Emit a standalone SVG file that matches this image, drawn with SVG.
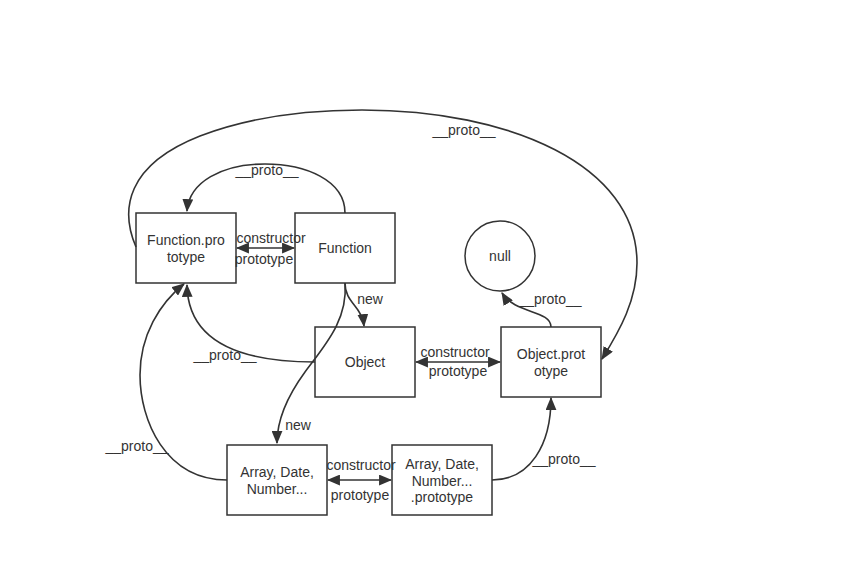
<svg xmlns="http://www.w3.org/2000/svg" width="866" height="577" viewBox="0 0 866 577">
  <style>
    .box { fill: #ffffff; stroke: #333333; stroke-width: 1.5; }
    .lbl { font-family: "Liberation Sans", Arial, sans-serif; font-size: 14px; fill: #333333; text-anchor: middle; }
    .edge { fill: none; stroke: #333333; stroke-width: 1.6; }
    .one { marker-end: url(#arrow); }
    .both { marker-start: url(#arrow); marker-end: url(#arrow); }
  </style>
  <defs>
    <marker id="arrow" viewBox="0 0 12 10" refX="11" refY="5" markerWidth="13" markerHeight="11" markerUnits="userSpaceOnUse" orient="auto-start-reverse">
      <path d="M0,0 L12,5 L0,10 Z" fill="#333333"/>
    </marker>
  </defs>
  <rect width="866" height="577" fill="#ffffff"/>

  <g id="function-prototype">
    <rect class="box" x="136" y="213" width="100" height="70"/>
    <text class="lbl" x="186" y="245">Function.pro</text>
    <text class="lbl" x="186" y="261.5">totype</text>
  </g>
  <g id="function">
    <rect class="box" x="295" y="213" width="100" height="70"/>
    <text class="lbl" x="345" y="253">Function</text>
  </g>
  <g id="null">
    <ellipse class="box" cx="500" cy="256" rx="35" ry="35"/>
    <text class="lbl" x="500" y="261">null</text>
  </g>
  <g id="object">
    <rect class="box" x="315" y="327" width="100" height="70"/>
    <text class="lbl" x="365" y="367">Object</text>
  </g>
  <g id="object-prototype">
    <rect class="box" x="501" y="327" width="100" height="70"/>
    <text class="lbl" x="551" y="359">Object.prot</text>
    <text class="lbl" x="551" y="375.5">otype</text>
  </g>
  <g id="builtins">
    <rect class="box" x="227" y="445" width="100" height="70"/>
    <text class="lbl" x="277" y="477">Array, Date,</text>
    <text class="lbl" x="277" y="493.5">Number...</text>
  </g>
  <g id="builtins-prototype">
    <rect class="box" x="392" y="445" width="100" height="70"/>
    <text class="lbl" x="442" y="469">Array, Date,</text>
    <text class="lbl" x="442" y="485.5">Number...</text>
    <text class="lbl" x="442" y="502">.prototype</text>
  </g>

  <g id="connectors">
    <!-- Function.prototype <-> Function -->
    <path class="edge both" d="M 237 248 L 294 248"/>
    <!-- Function __proto__ -> Function.prototype -->
    <path class="edge one" d="M 345 213 C 345 180 305 164 265 164 C 222 164 189 182 187 211"/>
    <!-- Function.prototype __proto__ -> Object.prototype -->
    <path class="edge one" d="M 136 247 C 120 210 126 165 200 136 C 255 115 310 110 362 110 C 510 110 637 165 637 263 C 637 300 620 330 602 359"/>
    <!-- Function new -> Object -->
    <path class="edge one" d="M 345 283 C 345 303 362 306 364 326"/>
    <!-- Function new -> Array, Date, Number... -->
    <path class="edge one" d="M 345 283 C 348 320 325 345 305 372 C 286 398 277 420 277 443"/>
    <!-- Object __proto__ -> Function.prototype -->
    <path class="edge one" d="M 315 362 C 245 362 188 345 187 285"/>
    <!-- Object <-> Object.prototype -->
    <path class="edge both" d="M 416 362 L 500 362"/>
    <!-- Object.prototype __proto__ -> null -->
    <path class="edge one" d="M 551 327 C 551 310 515 314 502 293"/>
    <!-- Array, Date, Number... __proto__ -> Function.prototype -->
    <path class="edge one" d="M 227 480 C 165 480 140 420 140 375 C 140 335 160 303 184 284"/>
    <!-- Array, Date, Number... <-> their prototype -->
    <path class="edge both" d="M 328 480 L 391 480"/>
    <!-- Array...prototype __proto__ -> Object.prototype -->
    <path class="edge one" d="M 492 480 C 530 480 551 445 551 398"/>
  </g>

  <g id="edge-labels">
    <text class="lbl" x="271" y="243">constructor</text>
    <text class="lbl" x="264" y="264">prototype</text>
    <text class="lbl" x="267" y="175">__proto__</text>
    <text class="lbl" x="464" y="135">__proto__</text>
    <text class="lbl" x="370" y="304">new</text>
    <text class="lbl" x="298" y="430">new</text>
    <text class="lbl" x="225" y="360">__proto__</text>
    <text class="lbl" x="455" y="357">constructor</text>
    <text class="lbl" x="458" y="376">prototype</text>
    <text class="lbl" x="550" y="304">__proto__</text>
    <text class="lbl" x="137" y="451">__proto__</text>
    <text class="lbl" x="361" y="470">constructor</text>
    <text class="lbl" x="360" y="500">prototype</text>
    <text class="lbl" x="564" y="464">__proto__</text>
  </g>
</svg>
